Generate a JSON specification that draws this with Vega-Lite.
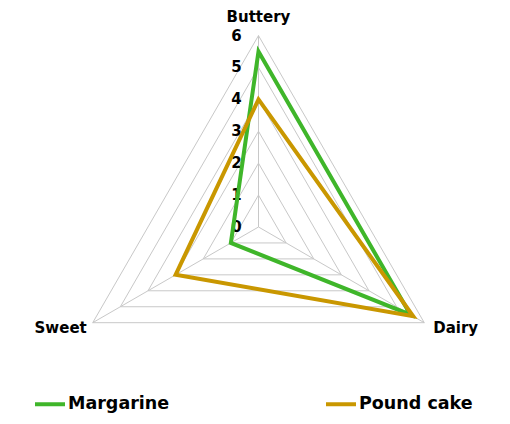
{
  "$schema": "https://vega.github.io/schema/vega-lite/v6.json",
  "width": 510,
  "height": 424,
  "autosize": {"type": "none"},
  "padding": 0,
  "config": {
    "view": {"stroke": null},
    "font": "DejaVu Sans",
    "text": {"font": "DejaVu Sans", "fontWeight": "bold", "color": "#000000"}
  },
  "datasets": {
    "flavours": [
      {"series": "Margarine", "axis": "Buttery", "value": 5.5},
      {"series": "Margarine", "axis": "Dairy", "value": 5.5},
      {"series": "Margarine", "axis": "Sweet", "value": 1},
      {"series": "Pound cake", "axis": "Buttery", "value": 4},
      {"series": "Pound cake", "axis": "Dairy", "value": 5.6},
      {"series": "Pound cake", "axis": "Sweet", "value": 3}
    ],
    "grid": [
      {"level": 1, "axis": "Buttery"}, {"level": 1, "axis": "Dairy"}, {"level": 1, "axis": "Sweet"},
      {"level": 2, "axis": "Buttery"}, {"level": 2, "axis": "Dairy"}, {"level": 2, "axis": "Sweet"},
      {"level": 3, "axis": "Buttery"}, {"level": 3, "axis": "Dairy"}, {"level": 3, "axis": "Sweet"},
      {"level": 4, "axis": "Buttery"}, {"level": 4, "axis": "Dairy"}, {"level": 4, "axis": "Sweet"},
      {"level": 5, "axis": "Buttery"}, {"level": 5, "axis": "Dairy"}, {"level": 5, "axis": "Sweet"},
      {"level": 6, "axis": "Buttery"}, {"level": 6, "axis": "Dairy"}, {"level": 6, "axis": "Sweet"}
    ],
    "ticks": [
      {"level": 0}, {"level": 1}, {"level": 2}, {"level": 3},
      {"level": 4}, {"level": 5}, {"level": 6}
    ]
  },
  "encoding": {
    "x": {"field": "x", "type": "quantitative", "axis": null,
          "scale": {"domain": [-8.103, 7.884], "nice": false, "zero": false}},
    "y": {"field": "y", "type": "quantitative", "axis": null,
          "scale": {"domain": [-6.176, 7.116], "nice": false, "zero": false}}
  },
  "layer": [
    {
      "data": {"name": "grid"},
      "transform": [
        {"calculate": "datum.axis === 'Buttery' ? 0 : datum.axis === 'Dairy' ? 2*PI/3 : 4*PI/3", "as": "a"},
        {"calculate": "datum.level * sin(datum.a)", "as": "x"},
        {"calculate": "datum.level * cos(datum.a)", "as": "y"}
      ],
      "mark": {"type": "line", "interpolate": "linear-closed", "stroke": "#c8c8c8", "strokeWidth": 1},
      "encoding": {
        "detail": {"field": "level"},
        "order": {"field": "a"}
      }
    },
    {
      "data": {"name": "grid"},
      "transform": [
        {"filter": "datum.level === 6"},
        {"calculate": "datum.axis === 'Buttery' ? 0 : datum.axis === 'Dairy' ? 2*PI/3 : 4*PI/3", "as": "a"},
        {"calculate": "datum.level * sin(datum.a)", "as": "x"},
        {"calculate": "datum.level * cos(datum.a)", "as": "y"}
      ],
      "mark": {"type": "rule", "stroke": "#c8c8c8", "strokeWidth": 1},
      "encoding": {
        "x2": {"datum": 0},
        "y2": {"datum": 0}
      }
    },
    {
      "data": {"name": "ticks"},
      "transform": [
        {"calculate": "0", "as": "x"},
        {"calculate": "datum.level", "as": "y"}
      ],
      "mark": {"type": "text", "fontSize": 15, "align": "center", "baseline": "middle", "dx": -22},
      "encoding": {"text": {"field": "level"}}
    },
    {
      "data": {"name": "flavours"},
      "transform": [
        {"calculate": "datum.axis === 'Buttery' ? 0 : datum.axis === 'Dairy' ? 2*PI/3 : 4*PI/3", "as": "a"},
        {"calculate": "datum.value * sin(datum.a)", "as": "x"},
        {"calculate": "datum.value * cos(datum.a)", "as": "y"}
      ],
      "mark": {"type": "line", "interpolate": "linear-closed", "strokeWidth": 4, "strokeJoin": "miter"},
      "encoding": {
        "color": {
          "field": "series", "type": "nominal",
          "scale": {"domain": ["Margarine", "Pound cake"], "range": ["#3fb62a", "#c99700"]},
          "legend": {
            "title": null,
            "orient": "none",
            "legendX": 33,
            "legendY": 387,
            "direction": "horizontal",
            "columnPadding": 148,
            "padding": 0,
            "symbolType": "stroke",
            "symbolSize": 900,
            "symbolStrokeWidth": 4,
            "labelFont": "DejaVu Sans",
            "labelFontWeight": "bold",
            "labelFontSize": 17.5,
            "labelColor": "#000000",
            "labelOffset": 1
          }
        },
        "order": {"field": "a"}
      }
    },
    {
      "data": {"name": "grid"},
      "transform": [
        {"filter": "datum.level === 6 && datum.axis === 'Buttery'"},
        {"calculate": "0", "as": "x"},
        {"calculate": "6", "as": "y"}
      ],
      "mark": {"type": "text", "fontSize": 15, "align": "center", "baseline": "alphabetic", "dy": -14},
      "encoding": {"text": {"field": "axis"}}
    },
    {
      "data": {"name": "grid"},
      "transform": [
        {"filter": "datum.level === 6 && datum.axis === 'Dairy'"},
        {"calculate": "6 * sin(2*PI/3)", "as": "x"},
        {"calculate": "6 * cos(2*PI/3)", "as": "y"}
      ],
      "mark": {"type": "text", "fontSize": 15, "align": "left", "baseline": "alphabetic", "dx": 9, "dy": 10},
      "encoding": {"text": {"field": "axis"}}
    },
    {
      "data": {"name": "grid"},
      "transform": [
        {"filter": "datum.level === 6 && datum.axis === 'Sweet'"},
        {"calculate": "6 * sin(4*PI/3)", "as": "x"},
        {"calculate": "6 * cos(4*PI/3)", "as": "y"}
      ],
      "mark": {"type": "text", "fontSize": 15, "align": "right", "baseline": "alphabetic", "dx": -6, "dy": 10},
      "encoding": {"text": {"field": "axis"}}
    }
  ]
}
